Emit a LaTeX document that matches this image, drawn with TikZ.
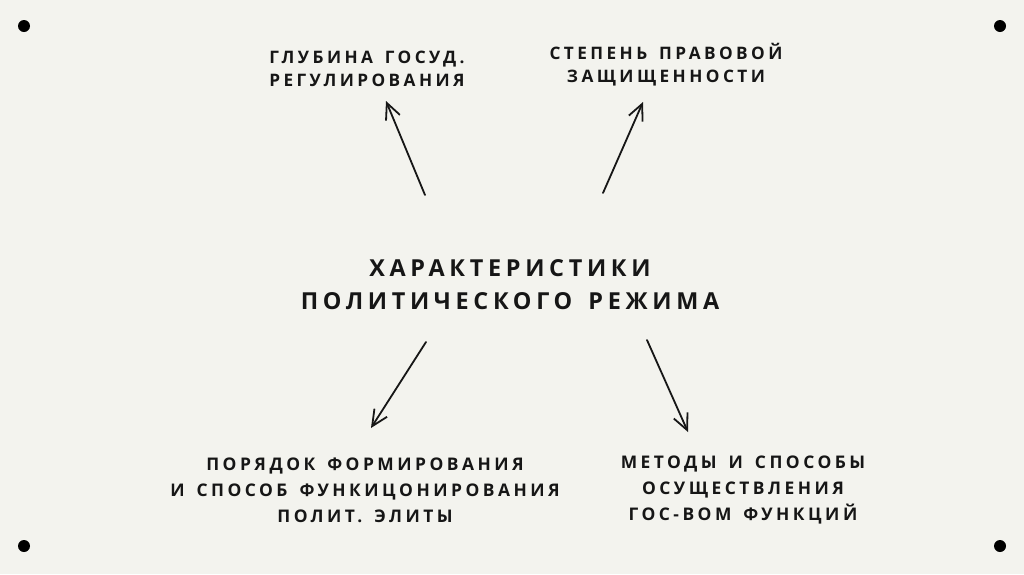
\documentclass[tikz,border=0pt]{standalone}
\usepackage{fontspec}
\newfontfamily\capsfont[LetterSpace=20,WordSpace=1.5]{Open Sans}
\usetikzlibrary{arrows.meta}
\definecolor{paper}{HTML}{F3F3EE}
\definecolor{ink}{HTML}{161616}

\begin{document}
\begin{tikzpicture}[x=0.5pt,y=-0.5pt,>={Straight Barb[length=8pt,width=7.5pt]},
 lbl/.style={align=center,inner sep=0pt,text=ink,font=\capsfont\bfseries\fontsize{8.6}{11.5}\selectfont},
 lblb/.style={lbl,font=\capsfont\bfseries\fontsize{8.7}{13}\selectfont},
 ttl/.style={align=center,inner sep=0pt,text=ink,font=\capsfont\bfseries\fontsize{11.7}{16.5}\selectfont},
 arr/.style={->,draw=ink,line width=0.9pt,line cap=round},
 dot/.style={circle,fill=black,inner sep=0pt,minimum size=6pt}]
\fill[paper] (0,0) rectangle (1024,574);
\useasboundingbox (0,0) rectangle (1024,574);
% corner dots
\node[dot] (d1) at (24,26) {};
\node[dot] (d2) at (1000,26) {};
\node[dot] (d3) at (24,546) {};
\node[dot] (d4) at (1000,546) {};
% texts
\node[ttl] (main) at (510,285) {ХАРАКТЕРИСТИКИ\\ПОЛИТИЧЕСКОГО РЕЖИМА};
\node[lbl] (depth) at (367,69) {ГЛУБИНА ГОСУД.\\РЕГУЛИРОВАНИЯ};
\node[lbl] (law) at (666,65) {СТЕПЕНЬ ПРАВОВОЙ\\ЗАЩИЩЕННОСТИ};
\node[lblb] (elite) at (365,490) {ПОРЯДОК ФОРМИРОВАНИЯ\\И СПОСОБ ФУНКИЦОНИРОВАНИЯ\\ПОЛИТ. ЭЛИТЫ};
\node[lblb] (meth) at (743,490) {МЕТОДЫ И СПОСОБЫ\\ОСУЩЕСТВЛЕНИЯ\\ГОС-ВОМ ФУНКЦИЙ};
% arrow ends
\coordinate (a1) at (425,195);
\coordinate (b1) at (386,101);
\coordinate (a2) at (603,193);
\coordinate (b2) at (643,102);
\coordinate (a3) at (426,342);
\coordinate (b3) at (371,428);
\coordinate (a4) at (647,340);
\coordinate (b4) at (688,432);
\draw[arr] (a1) -- (b1);
\draw[arr] (a2) -- (b2);
\draw[arr] (a3) -- (b3);
\draw[arr] (a4) -- (b4);
\end{tikzpicture}
\end{document}
